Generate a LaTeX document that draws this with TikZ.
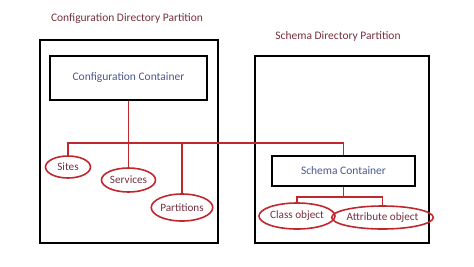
\documentclass[tikz,border=0pt]{standalone}
\usepackage{fontspec}
\setmainfont{Carlito}
\usepackage{xcolor}
\usetikzlibrary{shapes.geometric}
\definecolor{linkred}{HTML}{C0282D}
\definecolor{titlered}{HTML}{76303F}
\definecolor{boxblue}{HTML}{4A5890}

\begin{document}
\begin{tikzpicture}[x=1pt,y=-1pt,
  part/.style={draw=black, line width=2.6pt},
  cont/.style={draw=black, line width=1.5pt, text=boxblue, inner sep=0pt,
    font=\fontsize{11.5}{13}\selectfont},
  obj/.style={ellipse, draw=linkred, line width=1.6pt, inner sep=0pt,
    text=titlered, font=\fontsize{11.2}{13}\selectfont},
  link/.style={linkred, line width=1.4pt}]
  \useasboundingbox (0,0) rectangle (474,266);

  % partitions
  \draw[part] (40,40) rectangle (218,243);
  \draw[part] (255,56) rectangle (429,243);
  \node[text=titlered, font=\fontsize{11.5}{13}\selectfont] (cfgtitle) at (127,19) {Configuration Directory Partition};
  \node[text=titlered, font=\fontsize{11.5}{13}\selectfont] (schtitle) at (338,36) {Schema Directory Partition};

  % containers
  \node[cont, minimum width=157pt, minimum height=44pt] (cfg) at (128.5,78) {Configuration Container};
  \node[cont, minimum width=143pt, minimum height=30pt] (schema) at (343.5,171) {Schema Container};

  % objects
  \node[obj, minimum width=45pt, minimum height=22pt] (sites) at (68,167) {Sites};
  \node[obj, minimum width=54pt, minimum height=24pt] (services) at (128.5,180) {Services};
  \node[obj, minimum width=56pt, minimum height=27pt] (parts) at (182,207.5) {Partitions};
  \node[obj, minimum width=68pt, minimum height=26pt] (class) at (297,216) {Class object};
  \node[obj, minimum width=82pt, minimum height=23pt] (attr) at (382.5,217.5) {Attribute object};

  % connectors
  \coordinate (bus) at (200,143);
  \coordinate (sbus) at (340,197);
  \draw[link] (cfg.south) -- (services.north);
  \draw[link] (sites.north) |- (bus) -| (schema.north);
  \draw[link] (parts.north) -- (parts.north |- bus);
  \draw[link] (schema.south) -- (schema.south |- sbus);
  \draw[link] (class.north) |- (sbus) -| (attr.north);
\end{tikzpicture}
\end{document}
